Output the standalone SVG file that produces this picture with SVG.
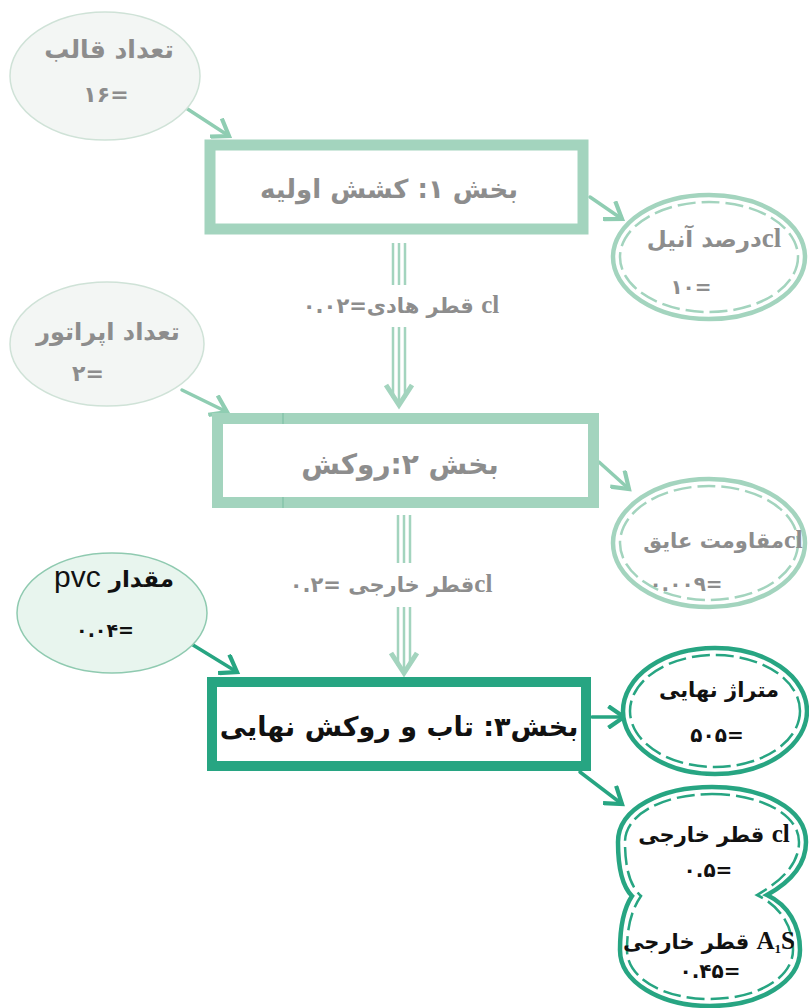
<svg xmlns="http://www.w3.org/2000/svg" width="809" height="1008" viewBox="0 0 809 1008">
<style>
.fa{font-family:"DejaVu Sans","Noto Sans",sans-serif;font-weight:bold}
.lat{font-family:"Liberation Serif","DejaVu Serif",serif;font-weight:bold}
.sans{font-family:"Liberation Sans",Arial,sans-serif;font-weight:normal}
.g{fill:#8d8d8d}
.k{fill:#111}
.lt{stroke:#a3d4be}
.dk{stroke:#27a582}
.conn{fill:none;stroke-width:3.5;stroke-linecap:round}
.tri{stroke:#a3d4be;stroke-width:2.5;fill:none}
.solid{fill:#fff;stroke-width:4.5}
.dash{fill:none;stroke-width:2.5;stroke-dasharray:18 6}
</style>
<defs>
<marker id="ahL" markerUnits="userSpaceOnUse" markerWidth="24" markerHeight="24" refX="14" refY="10" orient="auto" viewBox="0 0 20 20">
<path d="M1,1 L14,10 L1,19" fill="none" stroke="#8fcdb2" stroke-width="3.5"/>
</marker>
<marker id="ahD" markerUnits="userSpaceOnUse" markerWidth="24" markerHeight="24" refX="14" refY="10" orient="auto" viewBox="0 0 20 20">
<path d="M1,1 L14,10 L1,19" fill="none" stroke="#27a582" stroke-width="3.5"/>
</marker>
</defs>

<g id="connectors">
<line class="conn" stroke="#8fcdb2" x1="186" y1="108" x2="229" y2="136" marker-end="url(#ahL)"/>
<line class="conn" stroke="#8fcdb2" x1="590" y1="197" x2="622" y2="219" marker-end="url(#ahL)"/>
<line class="conn" stroke="#8fcdb2" x1="182" y1="390" x2="227" y2="412" marker-end="url(#ahL)"/>
<line class="conn" stroke="#8fcdb2" x1="599" y1="462" x2="629" y2="489" marker-end="url(#ahL)"/>
<line class="conn" stroke="#27a582" x1="193" y1="645" x2="237" y2="672" marker-end="url(#ahD)"/>
<line class="conn" stroke="#27a582" x1="592" y1="717" x2="624" y2="717" marker-end="url(#ahD)"/>
<line class="conn" stroke="#27a582" x1="580" y1="772" x2="622" y2="804" marker-end="url(#ahD)"/>
<g id="flow1">
<path class="tri" d="M393,243 V285 M399,243 V285 M405,243 V285 M393,327 V398 M399,327 V402 M405,327 V398"/>
<polyline points="386,385 399,405 412,385" fill="none" stroke="#a3d4be" stroke-width="5"/>
</g>
<g id="flow2">
<path class="tri" d="M398,515 V563 M404,515 V563 M410,515 V563 M398,607 V666 M404,607 V670 M410,607 V666"/>
<polyline points="391,653 404,673 417,653" fill="none" stroke="#a3d4be" stroke-width="5"/>
</g>
<text class="fa g" x="401" y="313" font-size="21" direction="rtl" text-anchor="middle"><tspan class="lat" font-size="25">cl</tspan> قطر هادی=۰.۰۲</text>
<text class="fa g" x="391" y="592" font-size="21" direction="rtl" text-anchor="middle"><tspan class="lat" font-size="25">cl</tspan>قطر خارجی =۰.۲</text>
</g>

<g id="n_qaleb">
<ellipse cx="105" cy="76" rx="95" ry="64" fill="#f3f6f4" stroke="#cfe2d7" stroke-width="1.5"/>
<text class="fa g" x="109" y="58" font-size="25" text-anchor="middle">تعداد قالب</text>
<text class="fa g" x="106" y="102" font-size="22" text-anchor="middle">۱۶=</text>
</g>

<g id="n_box1">
<rect x="210" y="145" width="373" height="84" fill="#fff" stroke="#a3d4be" stroke-width="11"/>
<text class="fa g" x="389" y="198" font-size="26" direction="rtl" text-anchor="middle">بخش ۱: کشش اولیه</text>
</g>

<g id="n_anil">
<ellipse class="solid lt" cx="709" cy="257" rx="96" ry="62"/>
<ellipse class="dash lt" cx="709" cy="257" rx="89" ry="55"/>
<text class="fa g" x="714" y="247" font-size="23" direction="rtl" text-anchor="middle"><tspan class="lat" font-size="27">cl</tspan>درصد آنیل</text>
<text class="fa g" x="691" y="294" font-size="20" text-anchor="middle">۱۰=</text>
</g>

<g id="n_operator">
<ellipse cx="107" cy="344" rx="97" ry="62" fill="#f3f6f4" stroke="#cfe2d7" stroke-width="1.5"/>
<text class="fa g" x="108" y="340" font-size="24" text-anchor="middle">تعداد اپراتور</text>
<text class="fa g" x="88" y="381" font-size="22" text-anchor="middle">۲=</text>
</g>

<g id="n_box2">
<rect x="217.5" y="418.5" width="376" height="84" fill="#fff" stroke="#a3d4be" stroke-width="11"/>
<line x1="283" y1="413" x2="283" y2="424" stroke="#7fc0a5" stroke-width="1.2"/>
<line x1="283" y1="497" x2="283" y2="508" stroke="#7fc0a5" stroke-width="1.2"/>
<text class="fa g" x="400" y="474" font-size="28" direction="rtl" text-anchor="middle">بخش ۲:روکش</text>
</g>

<g id="n_ayeq">
<ellipse class="solid lt" cx="709" cy="543" rx="96" ry="64"/>
<ellipse class="dash lt" cx="709" cy="543" rx="89" ry="57"/>
<text class="fa g" x="723" y="548" font-size="21" direction="rtl" text-anchor="middle"><tspan class="lat" font-size="26">cl</tspan>مقاومت عایق</text>
<text class="fa g" x="686" y="591" font-size="20" text-anchor="middle">۰.۰۰۹=</text>
</g>

<g id="n_pvc">
<ellipse cx="112" cy="613" rx="95" ry="60" fill="#e8f5ee" stroke="#8fcab0" stroke-width="1.5"/>
<text class="fa k" x="114" y="587" font-size="23" direction="rtl" text-anchor="middle">مقدار <tspan class="sans" font-size="30">pvc</tspan></text>
<text class="fa k" x="105" y="637" font-size="19" text-anchor="middle">۰.۰۴=</text>
</g>

<g id="n_box3">
<rect x="212" y="682" width="374" height="84" fill="#fff" stroke="#27a582" stroke-width="10"/>
<text class="fa k" x="399" y="736" font-size="27" direction="rtl" text-anchor="middle">بخش۳: تاب و روکش نهایی</text>
</g>

<g id="n_metraj">
<ellipse class="solid dk" cx="715" cy="711" rx="92" ry="63"/>
<ellipse class="dash dk" cx="715" cy="711" rx="85" ry="56"/>
<text class="fa k" x="719" y="697" font-size="21" direction="rtl" text-anchor="middle">متراژ نهایی</text>
<text class="fa k" x="717" y="742" font-size="20" text-anchor="middle">۵۰۵=</text>
</g>

<g id="n_qotr">
<path class="solid dk" d="M712,787 C762,787 806,808 806,842 C806,868 785,885 767,895 C788,905 800,925 800,950 C800,982 760,1006 710,1006 C660,1006 620,982 620,950 C620,926 624,908 632,896 C622,886 618,868 618,842 C618,808 662,787 712,787 Z"/>
<path class="dash dk" d="M712,794 C758,794 799,813 799,842 C799,866 778,883 757,895 C780,906 793,926 793,950 C793,978 757,999 710,999 C663,999 627,978 627,950 C627,926 632,909 641,896 C630,886 625,868 625,842 C625,813 666,794 712,794 Z"/>
<text class="fa k" x="714" y="842" font-size="21" direction="rtl" text-anchor="middle"><tspan class="lat" font-size="25">cl</tspan> قطر خارجی</text>
<text class="fa k" x="708" y="877" font-size="20" text-anchor="middle">۰.۵=</text>
<text class="fa k" x="709" y="949" font-size="21" direction="rtl" text-anchor="middle"><tspan class="lat" font-size="25">A<tspan font-size="13" baseline-shift="-4">1</tspan>S</tspan> قطر خارجی</text>
<text class="fa k" x="710" y="978" font-size="20" text-anchor="middle">۰.۴۵=</text>
</g>
</svg>
